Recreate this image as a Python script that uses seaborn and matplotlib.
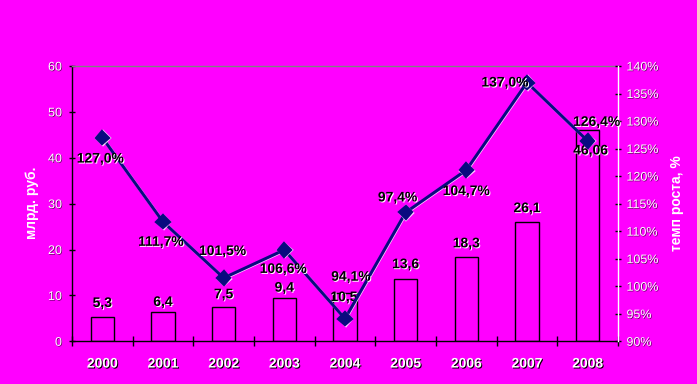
import numpy as np
import matplotlib
matplotlib.use("Agg")
import matplotlib.pyplot as plt
import matplotlib.patheffects as pe
import seaborn as sns

# ---- data ----
years = ['2000', '2001', '2002', '2003', '2004', '2005', '2006', '2007', '2008']
bar_values = [5.3, 6.4, 7.5, 9.4, 10.5, 13.6, 18.3, 26.1, 46.06]
bar_labels = ['5,3', '6,4', '7,5', '9,4', '10,5', '13,6', '18,3', '26,1', '46,06']
growth_values = [127.0, 111.7, 101.5, 106.6, 94.1, 113.4, 121.1, 137.0, 126.4]
growth_labels = ['127,0%', '111,7%', '101,5%', '106,6%', '94,1%', '97,4%',
                 '104,7%', '137,0%', '126,4%']
left_ticks = [0, 10, 20, 30, 40, 50, 60]
right_ticks = [90, 95, 100, 105, 110, 115, 120, 125, 130, 135, 140]

# ---- layout constants (label offsets in pixels) ----
bar_label_dx = [0, 0, 0, 0, -1, 0, 0, 0, 3]
bar_label_dy = [14, 10, 12.6, 10.5, -4, 14.7, 14, 13.4, -20.5]
line_label_dx = [-2, -2, -1, -1, 6, -8, 0, -22, 9]
line_label_dy = [-21, -20, 27, -19, 42, 15, -21, 0, 19]

plt.rcParams['font.family'] = ['Liberation Sans', 'DejaVu Sans']
MAGENTA = '#FF00FF'
NAVY = '#0A0A80'

fig = plt.figure(figsize=(6.97, 3.84), dpi=100, facecolor=MAGENTA)
ax = fig.add_axes([72 / 697, 1 - 341.3 / 384, (618 - 72) / 697, (341.3 - 66) / 384])
ax.set_facecolor(MAGENTA)

sns.barplot(x=years, y=bar_values, ax=ax, fill=False, color='black',
            width=0.385, linewidth=1, errorbar=None)

ax2 = ax.twinx()
sns.pointplot(x=years, y=growth_values, ax=ax2, color=NAVY, markers='D',
              markersize=6.8, linewidth=2.2, errorbar=None)
for ln in ax2.lines:
    ln.set_path_effects([pe.SimpleLineShadow(offset=(0.4, -0.4), shadow_color='white', alpha=0.8),
                         pe.Normal()])

ax.set_xlim(-0.5, 8.5)
ax2.set_xlim(-0.5, 8.5)
ax.set_ylim(0, 60)
ax2.set_ylim(90, 140)
ax.set_yticks(left_ticks)
ax.set_yticklabels([str(t) for t in left_ticks])
ax2.set_yticks(right_ticks)
ax2.set_yticklabels([f'{t}%' for t in right_ticks])
ax.set_xlabel('')
ax.set_ylabel('')
ax2.set_xlabel('')
ax2.set_ylabel('')
ax.grid(False)
ax2.grid(False)

# spines
for a in (ax, ax2):
    for s in a.spines.values():
        s.set_linewidth(1)
ax.spines['top'].set_color('#808080')
ax.spines['left'].set_color('black')
ax.spines['bottom'].set_color('black')
ax.spines['right'].set_visible(False)
ax2.spines['right'].set_color('white')
ax2.spines['top'].set_visible(False)
ax2.spines['left'].set_visible(False)
ax2.spines['bottom'].set_visible(False)

# ticks
ax.set_xticks(range(len(years)))
ax.set_xticklabels(years)
ax.set_xticks(np.arange(-0.5, len(years), 1), minor=True)
ax.tick_params(axis='x', which='major', length=0, pad=11, labelsize=10,
               labelcolor='white')
ax.tick_params(axis='x', which='minor', direction='inout', length=6.5,
               width=1, color='black')
for lbl in ax.get_xticklabels():
    lbl.set_fontweight('bold')
    lbl.set_path_effects([pe.withSimplePatchShadow(offset=(0.7, -0.7),
                                                   shadow_rgbFace='black', alpha=1)])
ax.tick_params(axis='y', direction='inout', length=5, width=1, color='black',
               labelcolor='white', labelsize=9, pad=4.7)
ax2.tick_params(axis='y', direction='inout', length=5, width=1, color='black',
                labelcolor='white', labelsize=9, pad=3.6)
for lbl in list(ax.get_yticklabels()) + list(ax2.get_yticklabels()):
    lbl.set_path_effects([pe.withSimplePatchShadow(offset=(0.5, -0.5),
                                                   shadow_rgbFace='black', alpha=0.6)])

label_fx = [pe.withSimplePatchShadow(offset=(0.7, -0.7), shadow_rgbFace='white', alpha=1)]

# bar labels
for i, p in enumerate(ax.patches[:len(bar_values)]):
    cx = p.get_x() + p.get_width() / 2
    top = p.get_y() + p.get_height()
    ax.annotate(bar_labels[i], (cx, top), xytext=(bar_label_dx[i], bar_label_dy[i]),
                textcoords='offset pixels', ha='center', va='center',
                fontsize=10, fontweight='bold', color='black', path_effects=label_fx)

# line labels
pts = ax2.lines[0].get_xydata()
for i, (x, y) in enumerate(pts):
    ax2.annotate(growth_labels[i], (x, y), xytext=(line_label_dx[i], line_label_dy[i]),
                 textcoords='offset pixels', ha='center', va='center',
                 fontsize=10, fontweight='bold', color='black', path_effects=label_fx)

# axis titles
fig.text(32 / 697, 1 - 203 / 384, 'млрд. руб.', rotation=90, ha='center', va='center',
         color='white', fontsize=10, fontweight='bold')
fig.text(677 / 697, 1 - 203 / 384, 'темп роста, %', rotation=90, ha='center',
         va='center', color='white', fontsize=10, fontweight='bold')

fig.savefig('out.png', dpi=100, facecolor=MAGENTA)
